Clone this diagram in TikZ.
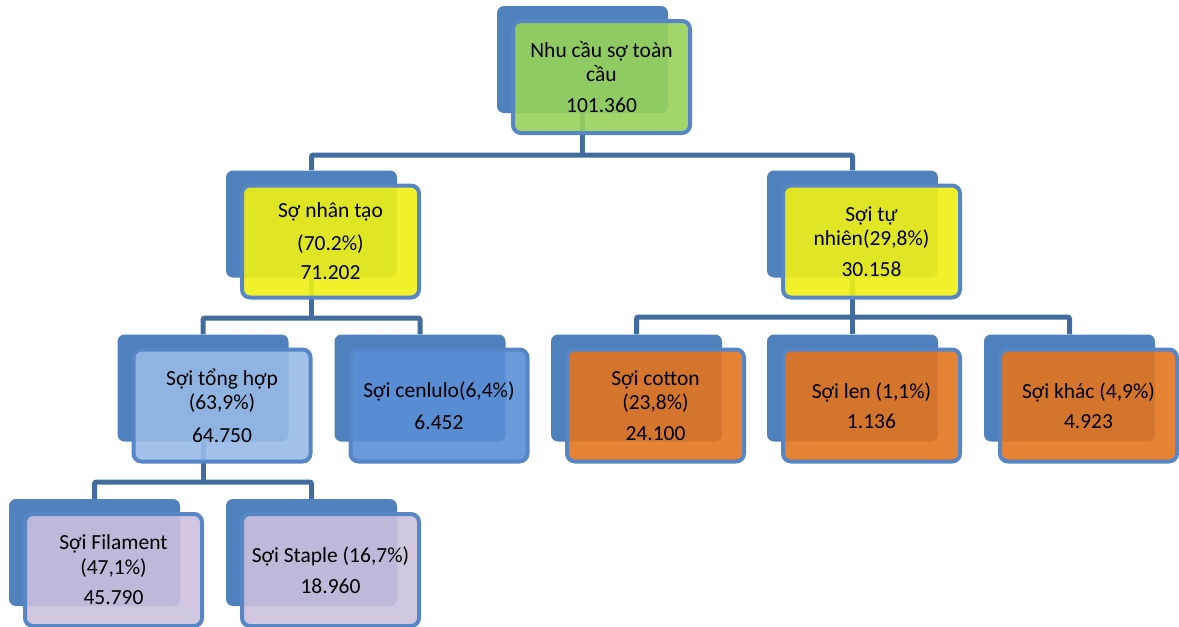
\documentclass[tikz,border=0pt]{standalone}
\usepackage{fontspec}
\setmainfont{Carlito}
\usetikzlibrary{backgrounds}
\definecolor{backblue}{HTML}{4F81BD}
\definecolor{frontline}{HTML}{5686C6}
\definecolor{connblue}{HTML}{416C9E}
\definecolor{fgreen}{HTML}{98D25A}
\definecolor{fyellow}{HTML}{F0F014}
\definecolor{forange}{HTML}{E2741E}
\definecolor{flight}{HTML}{98BAE5}
\definecolor{fmid}{HTML}{5A8FD6}
\definecolor{flav}{HTML}{CBC0DB}
\begin{document}
\begin{tikzpicture}[x=1pt,y=-1pt,
  backbox/.style={rectangle, rounded corners=7pt, fill=backblue, minimum width=171pt, minimum height=107pt, inner sep=0pt},
  frontbox/.style={rectangle, rounded corners=8pt, draw=frontline, line width=4pt, fill=#1, fill opacity=0.9, text opacity=1, draw opacity=1, minimum width=177pt, minimum height=112pt, inner sep=0pt, align=center, font=\fontsize{21.5}{24.5}\selectfont, text=black},
  conn/.style={draw=connblue, line width=5pt, rounded corners=2pt}]
\useasboundingbox (0,0) rectangle (1179,627);
% back boxes
\node[backbox] (top) at (582.5,59.5) {};
\node[backbox] (nt) at (311.5,224) {};
\node[backbox] (tn) at (852.5,224) {};
\node[backbox] (th) at (203,388) {};
\node[backbox] (cl) at (420,388) {};
\node[backbox] (co) at (636.5,388) {};
\node[backbox] (len) at (852.5,388) {};
\node[backbox] (kh) at (1069.5,388) {};
\node[backbox] (fi) at (94.5,552.5) {};
\node[backbox] (st) at (311.5,552.5) {};
% front boxes
\node[frontbox=fgreen] (topt) at ([shift={(19,17.5)}]top.center) {Nhu cầu sợ toàn\\cầu\\[6pt]101.360};
\node[frontbox=fyellow] (ntt) at ([shift={(19,17.5)}]nt.center) {Sợ nhân tạo\\[8pt](70.2\%)\\[5pt]71.202\hspace{12pt}};
\node[frontbox=fyellow] (tnt) at ([shift={(19,17.5)}]tn.center) {Sợi tự\\nhiên(29,8\%)\\[6pt]30.158};
\node[frontbox=flight] (tht) at ([shift={(19,17.5)}]th.center) {Sợi tổng hợp\\(63,9\%)\\[8pt]64.750};
\node[frontbox=fmid] (clt) at ([shift={(19,17.5)}]cl.center) {Sợi cenlulo(6,4\%)\\[7pt]6.452};
\node[frontbox=forange] (cot) at ([shift={(19,17.5)}]co.center) {Sợi cotton\\(23,8\%)\\[6pt]24.100};
\node[frontbox=forange] (lent) at ([shift={(19,17.5)}]len.center) {Sợi len (1,1\%)\\[6pt]1.136};
\node[frontbox=forange] (kht) at ([shift={(19,17.5)}]kh.center) {Sợi khác (4,9\%)\\[6pt]4.923};
\node[frontbox=flav] (fit) at ([shift={(19,17.5)}]fi.center) {Sợi Filament\\(47,1\%)\\[6pt]45.790};
\node[frontbox=flav] (stt) at ([shift={(19,17.5)}]st.center) {Sợi Staple (16,7\%)\\[6pt]18.960};
% bus points
\coordinate (bus1) at (582.5,155);
\coordinate (bus2) at (311.5,318);
\coordinate (bus3) at (852.5,317);
\coordinate (bus4) at (203,482);
\begin{scope}[on background layer]
\draw[conn] (top.south) -- (bus1);
\draw[conn] (nt.north) |- (bus1) -| (tn.north);
\draw[conn] (nt.south) -- (bus2);
\draw[conn] (th.north) |- (bus2) -| (cl.north);
\draw[conn] (tn.south) -- (bus3);
\draw[conn] (co.north) |- (bus3) -| (kh.north);
\draw[conn] (len.north) -- (bus3);
\draw[conn] (th.south) -- (bus4);
\draw[conn] (fi.north) |- (bus4) -| (st.north);
\end{scope}
\end{tikzpicture}
\end{document}
